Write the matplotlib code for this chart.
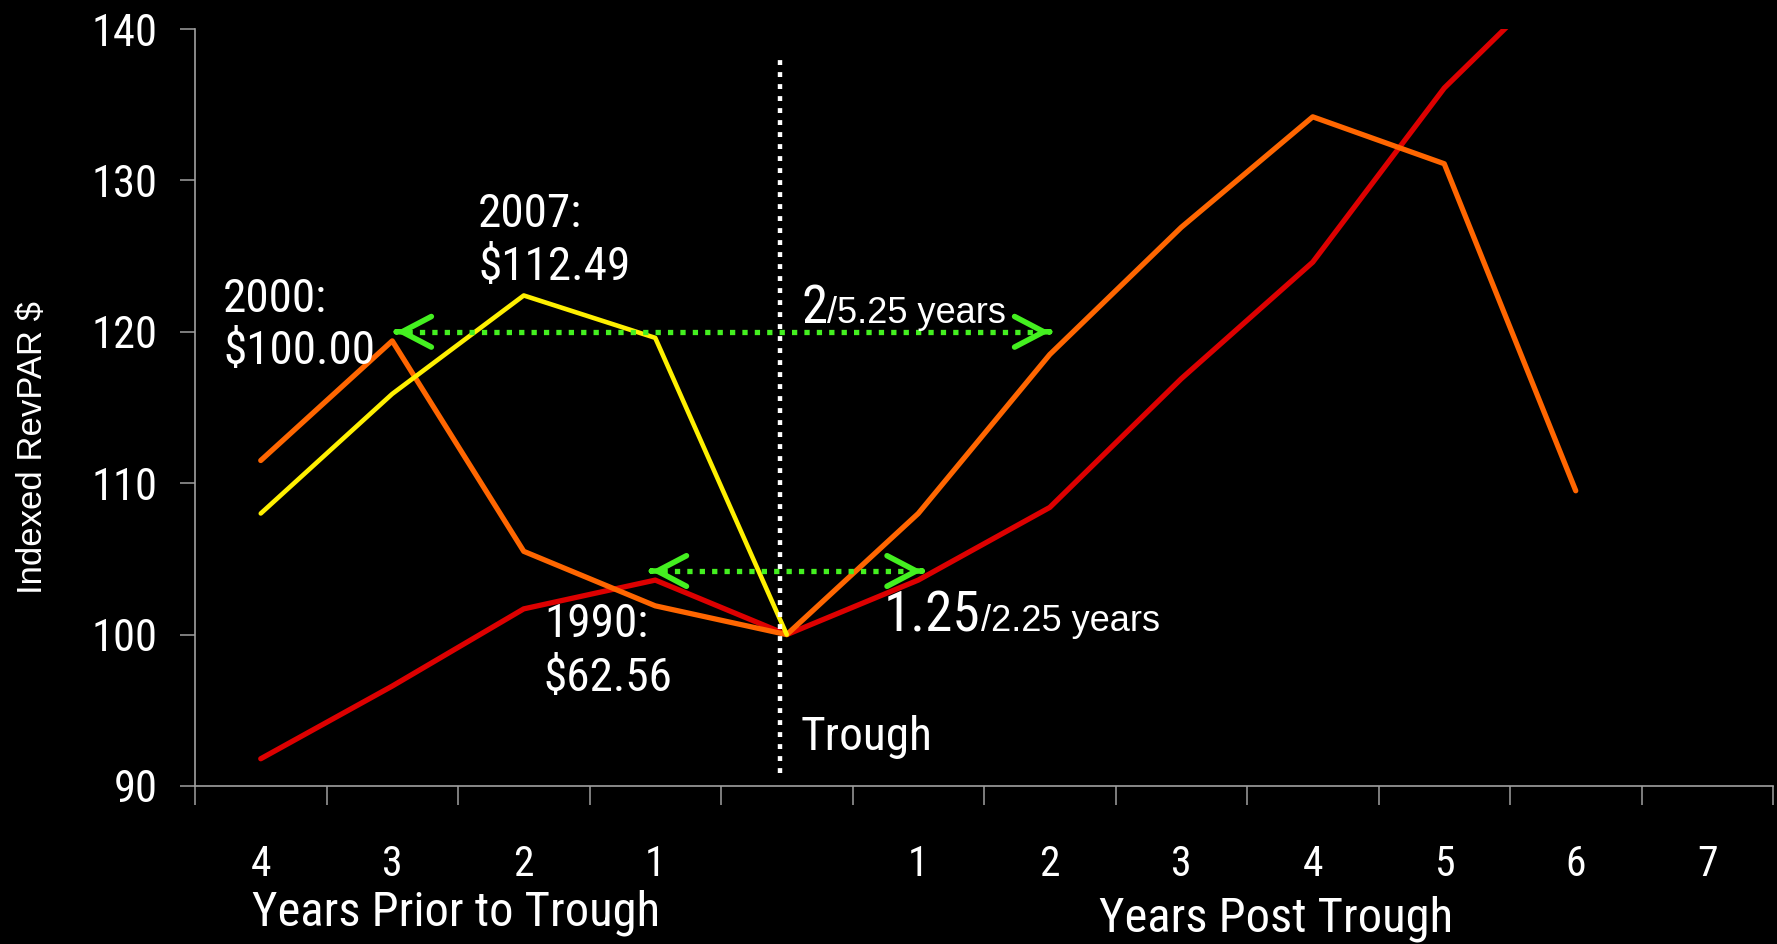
import matplotlib
matplotlib.use("Agg")
import matplotlib.pyplot as plt
import numpy as np

# Indexed RevPAR (trough = 100) around the three downturns
categories = ['4', '3', '2', '1', '', '1', '2', '3', '4', '5', '6', '7']
revpar_2007 = [108.0, 115.9, 122.4, 119.6, 100.0]
revpar_2000 = [111.5, 119.4, 105.5, 101.9, 100.0, 108.0, 118.5, 126.9, 134.2, 131.1, 109.5]
revpar_1990 = [91.8, 96.6, 101.7, 103.6, 100.0, 103.6, 108.4, 116.9, 124.6, 136.1, 144.6]
y_ticks = [90, 100, 110, 120, 130, 140]

# recovery spans (category units) and their RevPAR level
span_2000 = (1.03, 6.0, 120.0)
span_1990 = (2.97, 5.03, 104.2)
trough_x = 3.95

W, H = 1777, 944
NARROW = ['Liberation Sans Narrow', 'Arial Narrow', 'Roboto Condensed',
          'Archivo Narrow', 'PT Sans Narrow', 'IBM Plex Sans Condensed',
          'Liberation Sans', 'DejaVu Sans']
REGULAR = ['Liberation Sans', 'Arimo', 'DejaVu Sans']
plt.rcParams['font.family'] = NARROW

GRAY = '#A0A0A0'
GREEN = '#44F020'


def fx(px):
    return px / W


def fy(py):
    return 1 - py / H


fig = plt.figure(figsize=(W / 100, H / 100), dpi=100, facecolor='black')
ax = fig.add_axes([fx(195), fy(786), (1773 - 195) / W, (786 - 29) / H])
ax.set_facecolor('black')

x = np.arange(len(categories))
ax.plot(x[:len(revpar_1990)], revpar_1990, color='#DD0000', lw=3.8,
        solid_capstyle='round', zorder=3)
ax.plot(x[:len(revpar_2000)], revpar_2000, color='#FF6600', lw=3.8,
        solid_capstyle='round', zorder=4)
ax.plot(x[:len(revpar_2007)], revpar_2007, color='#FFF000', lw=3.3,
        solid_capstyle='round', zorder=5)

ax.set_xlim(-0.5, len(categories) - 0.5)
ax.set_ylim(90, 140)

# trough marker
ax.plot([trough_x, trough_x], [90.83, 138.17], color='white', lw=3.2,
        linestyle=(0, (1.1, 1.6)), dash_capstyle='butt', zorder=6)

# dotted double arrows for recovery spans
for x0, x1, yv in (span_2000, span_1990):
    ax.plot([x0 + 0.08, x1 - 0.08], [yv, yv], color=GREEN, lw=3.8,
            linestyle=(0, (1.0, 1.35)), dash_capstyle='butt', zorder=7)
    for tip, d in ((x0, 1), (x1, -1)):
        ax.annotate('', xy=(tip, yv), xytext=(tip + d * 0.002, yv),
                    arrowprops=dict(arrowstyle='->,head_length=0.42,head_width=0.22',
                                    mutation_scale=50, lw=4.0, color=GREEN,
                                    shrinkA=0, shrinkB=0, capstyle='round',
                                    joinstyle='round'),
                    zorder=8)

# axes styling
for side in ('top', 'right'):
    ax.spines[side].set_visible(False)
for side in ('left', 'bottom'):
    ax.spines[side].set_color(GRAY)
    ax.spines[side].set_linewidth(1.2)

ax.set_xticks(x)
ax.set_xticklabels(categories)
ax.set_xticks(np.arange(-0.5, len(categories), 1), minor=True)
ax.tick_params(axis='x', which='major', length=0, pad=42, labelsize=30,
               labelcolor='white')
ax.tick_params(axis='x', which='minor', length=13.7, width=1.1, color=GRAY,
               direction='out')
ax.set_yticks(y_ticks)
ax.tick_params(axis='y', length=10.8, width=1.1, color=GRAY, pad=16,
               labelsize=32, labelcolor='white')

# axis titles
fig.text(fx(33), fy(448), 'Indexed RevPAR $', rotation=90, ha='center',
         va='center', fontsize=25, color='white', family=REGULAR)
fig.text(fx(456), fy(925), 'Years Prior to Trough', ha='center',
         va='baseline', fontsize=35, color='white')
fig.text(fx(1276), fy(931), 'Years Post Trough', ha='center',
         va='baseline', fontsize=35, color='white')

# period labels
labels = [
    (223, 312, '2000:'), (223, 364, '$100.00'),
    (478, 227, '2007:'), (478, 280, '$112.49'),
    (544, 637, '1990:'), (544, 691, '$62.56'),
    (801, 750, 'Trough'),
]
for px, py, s in labels:
    fig.text(fx(px), fy(py), s, ha='left', va='baseline', fontsize=34,
             color='white', zorder=10)

# recovery durations: large figure followed by the full cycle length
for px, py, big, big_size, rest in ((801, 323, '2', 38, '/5.25 years'),
                                    (884, 631, '1.25', 40, '/2.25 years')):
    head = fig.text(fx(px), fy(py), big, ha='left', va='baseline',
                    fontsize=big_size, color='white', zorder=10)
    ax.annotate(rest, xy=(1, fy(py)), xycoords=(head, 'figure fraction'),
                ha='left', va='baseline', fontsize=26, color='white',
                family=REGULAR, annotation_clip=False, zorder=10)

fig.savefig('out.png', dpi=100, facecolor='black')
